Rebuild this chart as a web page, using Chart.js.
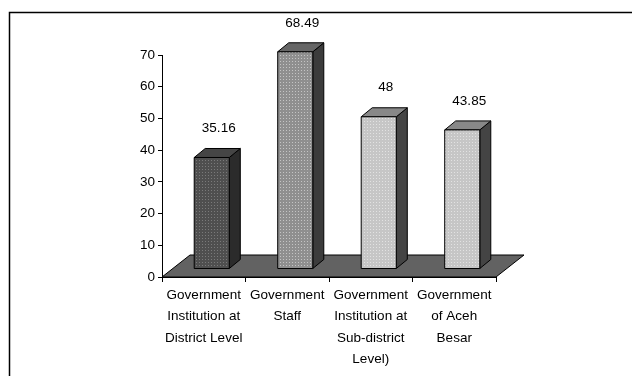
<!DOCTYPE html>
<html>
<head>
<meta charset="utf-8">
<script src="https://cdn.jsdelivr.net/npm/chart.js@4/dist/chart.umd.min.js"></script>
<style>
  html, body { margin: 0; padding: 0; background: #fff; }
  canvas { display: block; }
</style>
</head>
<body>
<canvas id="c" width="632" height="376"></canvas>
<script>
// Categories and values
const categories = [
  ['Government', 'Institution at', 'District Level'],
  ['Government', 'Staff'],
  ['Government', 'Institution at', 'Sub-district', 'Level)'],
  ['Government', 'of Aceh', 'Besar']
];
const values = [35.16, 68.49, 48, 43.85];
const valueLabels = ['35.16', '68.49', '48', '43.85'];
const yTicks = [0, 10, 20, 30, 40, 50, 60, 70];

const FONT = '"Liberation Sans", Arial, sans-serif';

// Dotted fill patterns for the bar fronts
function dotPattern(base, dot) {
  const p = document.createElement('canvas');
  p.width = 3; p.height = 3;
  const g = p.getContext('2d');
  g.fillStyle = base; g.fillRect(0, 0, 3, 3);
  g.fillStyle = dot; g.fillRect(1, 1, 1, 1);
  return g.createPattern(p, 'repeat');
}
const faces = [
  { front: dotPattern('#4f4f4f', '#7a7a7a'), top: '#454545', side: '#2b2b2b' },
  { front: dotPattern('#8f8f8f', '#c4c4c4'), top: '#666666', side: '#3c3c3c' },
  { front: dotPattern('#c6c6c6', '#e2e2e2'), top: '#888888', side: '#444444' },
  { front: dotPattern('#c6c6c6', '#e2e2e2'), top: '#888888', side: '#444444' }
];

const FLOOR_DX = 28, FLOOR_DY = -22;   // depth of the floor
const SHIFT_X = 8, SHIFT_Y = -8;       // where the bar fronts sit on the floor
const BAR_DX = 11, BAR_DY = -9;        // depth of each bar

const frame = {
  id: 'frame',
  beforeDraw(chart) {
    const c = chart.ctx;
    c.save();
    c.strokeStyle = '#000';
    c.lineWidth = 1.5;
    c.strokeRect(9.5, 12.5, 800, 600);
    c.restore();
  }
};

const floor3d = {
  id: 'floor3d',
  beforeDatasetsDraw(chart) {
    const c = chart.ctx, a = chart.chartArea;
    const y0 = chart.scales.y.getPixelForValue(0);
    c.save();
    c.beginPath();
    c.moveTo(a.left, y0);
    c.lineTo(a.right, y0);
    c.lineTo(a.right + FLOOR_DX, y0 + FLOOR_DY);
    c.lineTo(a.left + FLOOR_DX, y0 + FLOOR_DY);
    c.closePath();
    c.fillStyle = '#626262';
    c.fill();
    c.strokeStyle = '#000';
    c.lineWidth = 1;
    c.stroke();
    c.restore();
  }
};

const bars3d = {
  id: 'bars3d',
  afterDatasetsDraw(chart) {
    const c = chart.ctx;
    const meta = chart.getDatasetMeta(0);
    c.save();
    c.lineWidth = 1;
    c.strokeStyle = '#000';
    c.lineJoin = 'miter';
    meta.data.forEach((el, i) => {
      const p = el.getProps(['x', 'y', 'base', 'width'], true);
      const l = p.x - p.width / 2 + SHIFT_X, r = p.x + p.width / 2 + SHIFT_X;
      const t = p.y + SHIFT_Y, b = p.base + SHIFT_Y;
      const f = faces[i];
      // side face
      c.beginPath();
      c.moveTo(r, b); c.lineTo(r + BAR_DX, b + BAR_DY);
      c.lineTo(r + BAR_DX, t + BAR_DY); c.lineTo(r, t); c.closePath();
      c.fillStyle = f.side; c.fill(); c.stroke();
      // top face
      c.beginPath();
      c.moveTo(l, t); c.lineTo(r, t); c.lineTo(r + BAR_DX, t + BAR_DY);
      c.lineTo(l + BAR_DX, t + BAR_DY); c.closePath();
      c.fillStyle = f.top; c.fill(); c.stroke();
      // front face
      c.beginPath();
      c.rect(l, t, r - l, b - t);
      c.fillStyle = f.front; c.fill(); c.stroke();
      // value label
      c.fillStyle = '#000';
      c.font = '13.5px ' + FONT;
      c.textAlign = 'center';
      c.textBaseline = 'middle';
      c.fillText(valueLabels[i], (l + r) / 2 + 7, t - 29);
    });
    c.restore();
  }
};

new Chart(document.getElementById('c'), {
  type: 'bar',
  data: {
    labels: categories,
    datasets: [{
      data: values,
      backgroundColor: 'rgba(0,0,0,0)',
      borderWidth: 0,
      categoryPercentage: 1,
      barPercentage: 0.42
    }]
  },
  options: {
    responsive: false,
    animation: false,
    events: [],
    layout: { padding: { left: 100, right: 136, top: 55, bottom: 0 } },
    plugins: { legend: { display: false }, tooltip: { enabled: false } },
    scales: {
      x: {
        grid: { display: true, drawOnChartArea: false, drawTicks: true, tickLength: 5, color: '#000', offset: true },
        border: { display: true, color: '#000', width: 1 },
        ticks: {
          color: '#000', maxRotation: 0, autoSkip: false, padding: 2,
          font: { family: FONT, size: 13.5, lineHeight: 1.6 }
        },
        afterFit(s) { s.height = 99; }
      },
      y: {
        min: 0, max: 70,
        afterBuildTicks(s) { s.ticks = yTicks.map(v => ({ value: v })); },
        grid: { display: true, drawOnChartArea: false, drawTicks: true, tickLength: 4, color: '#000' },
        border: { display: true, color: '#000', width: 1 },
        ticks: {
          color: '#000', padding: 3,
          font: { family: FONT, size: 13.5 }
        },
        afterFit(s) { s.width = 62; }
      }
    }
  },
  plugins: [frame, floor3d, bars3d]
});
</script>
</body>
</html>
